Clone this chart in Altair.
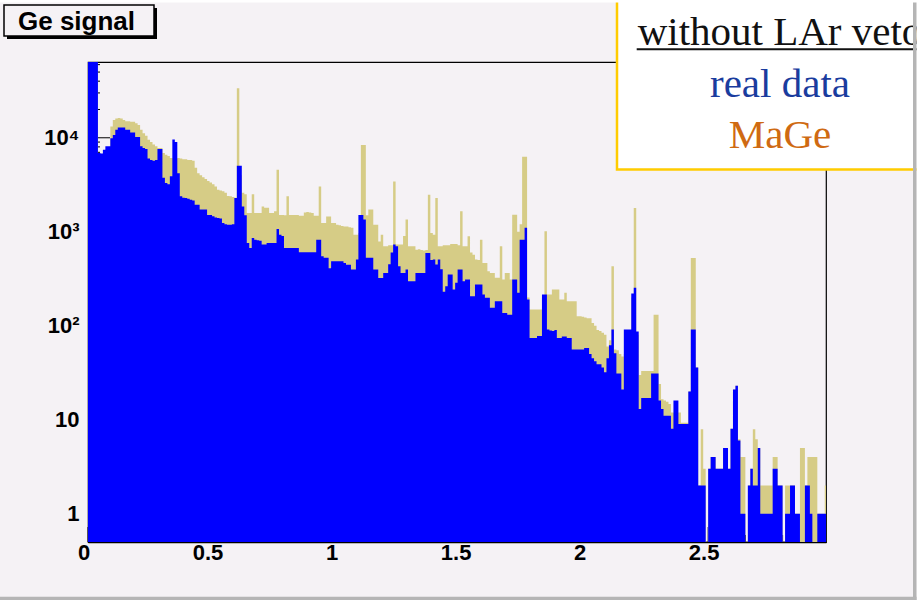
import altair as alt
import pandas as pd

# ---------------- data ----------------
BIN_WIDTH = 0.01          # MeV per histogram bin
X_MAX = 2.975             # right edge of the frame (MeV)
Y_MIN, Y_MAX = 0.5, 64000 # log-axis range

# real data (blue), counts per 10 keV bin, bins 0 .. 297
real_data = [
    90000, 90000, 80000, 70000, 6900, 6800, 7450, 8100, 8100, 9900,
    10700, 12200, 12900, 12900, 12900, 12200, 12200, 11400, 11400, 10200,
    10200, 8100, 7800, 7600, 6000, 5800, 5700, 5800, 7600, 7600,
    3750, 3300, 3200, 3900, 9600, 9000, 4200, 2380, 2300, 2280,
    2250, 2190, 2150, 1940, 1940, 1720, 1720, 1720, 1510, 1510,
    1460, 1420, 1400, 1380, 1240, 1200, 1190, 1190, 1200, 2280,
    5050, 5050, 1860, 1500, 760, 672, 858, 820, 810, 800,
    730, 730, 760, 760, 760, 760, 1070, 930, 900, 672,
    672, 672, 672, 672, 672, 605, 605, 605, 605, 605,
    605, 605, 824, 824, 548, 530, 530, 410, 486, 486,
    486, 486, 486, 466, 445, 445, 396, 396, 506, 1510,
    1510, 1350, 530, 530, 530, 396, 396, 323, 323, 365,
    365, 450, 600, 730, 700, 430, 365, 365, 396, 298,
    298, 298, 365, 365, 365, 365, 595, 595, 500, 506,
    447, 506, 400, 230, 263, 350, 350, 243, 286, 396,
    396, 298, 310, 310, 206, 206, 274, 274, 274, 215,
    198, 198, 155, 155, 182, 182, 182, 137, 137, 131,
    131, 310, 310, 224, 824, 824, 1100, 190, 74, 74,
    74, 78, 78, 215, 215, 91, 89, 88, 90, 74,
    74, 77, 77, 74, 74, 56, 56, 56, 56, 56,
    58, 58, 50, 45, 42, 39, 39, 36, 32, 45,
    62, 91, 51, 31, 31, 21, 91, 91, 91, 220,
    253, 87, 13, 17, 17, 17, 17, 31, 31, 31,
    16, 13, 11, 11, 11, 8, 16, 16, 9, 9,
    9, 9, 20, 91, 91, 36, 2, 2, 2, 0,
    3, 4, 4, 3, 3, 3, 5, 5, 3, 8,
    21, 23, 6, 1, 1, 0, 2, 3, 2, 2,
    5, 1, 1, 1, 1, 1, 3, 3, 2, 2,
    0, 1, 1, 2, 2, 1, 1, 0, 0, 2,
    2, 1, 0, 0, 1, 1, 1, 1,
]

# MaGe simulation (khaki), same binning
mage = [
    50000, 50000, 50000, 50000, 6000, 6200, 6800, 7500, 8000, 13200,
    15500, 16000, 16200, 16000, 15500, 15000, 15000, 14800, 14800, 14300,
    13700, 12200, 11200, 10500, 9500, 9000, 8500, 8100, 7800, 7800,
    6900, 6600, 6400, 6100, 6100, 6000, 6100, 6000, 5900, 5900,
    5800, 5800, 5700, 4800, 4200, 4000, 3800, 3650, 3460, 3350,
    3200, 3030, 2800, 2750, 2700, 2600, 2400, 2380, 2350, 2300,
    33700, 4000, 2600, 2500, 1580, 1580, 2500, 1580, 1580, 1580,
    1860, 1800, 1800, 1580, 1580, 1650, 4570, 1510, 1510, 1500,
    2380, 1510, 1510, 1510, 1510, 1480, 1480, 1600, 1620, 1600,
    1580, 1480, 1480, 3030, 1240, 1240, 1450, 1450, 1240, 1240,
    1190, 1170, 1150, 1140, 1140, 1120, 1100, 930, 930, 970,
    8400, 8400, 1500, 1720, 1720, 1190, 1190, 790, 930, 700,
    700, 720, 720, 3430, 730, 730, 730, 900, 1350, 700,
    700, 700, 645, 650, 640, 630, 640, 2480, 970, 930,
    2290, 700, 700, 720, 720, 720, 740, 740, 740, 720,
    1650, 700, 700, 893, 600, 570, 506, 500, 824, 466,
    466, 380, 365, 365, 325, 325, 700, 310, 365, 365,
    310, 1520, 1520, 1000, 1200, 6300, 6300, 200, 149, 149,
    149, 149, 149, 200, 1010, 215, 215, 243, 243, 243,
    190, 190, 224, 182, 182, 182, 182, 126, 126, 125,
    122, 120, 120, 107, 100, 90, 88, 84, 80, 60,
    70, 429, 56, 55, 50, 47, 50, 50, 50, 200,
    1790, 80, 30, 33, 33, 33, 33, 33, 131, 131,
    24, 16.5, 16, 15.5, 14.7, 11.9, 11.9, 11.9, 11.9, 9.3,
    9.3, 9.3, 20, 525, 525, 36, 2, 7.9, 3, 0,
    3, 4, 4, 3, 3, 3, 5, 5, 3, 8,
    21, 23, 6.2, 4, 4, 0, 2, 3, 7.9, 6.2,
    5, 2, 2, 2, 2, 2, 4, 4, 2, 2,
    0, 2, 2, 2, 2, 1, 1, 5, 5, 2,
    4, 4, 4, 4, 1, 1, 1, 2,
]

x_major = [0, 0.5, 1.0, 1.5, 2.0, 2.5]
x_labels = ["0", "0.5", "1", "1.5", "2", "2.5"]
y_major = [1, 10, 100, 1000, 10000]
y_label_text = ["1", "10", "10²", "10³", "10⁴"]

legend_lines = ["without LAr veto", "real data", "MaGe"]
title_text = "Ge signal"

# ---------------- styling ----------------
BG = "#f5f2f5"
BLUE = "#0000ff"
KHAKI = "#d6cc86"
W, H = 738, 480
LABEL_SIZE = 22

x_minor = [round(0.05 * k, 2) for k in range(60) if k % 10 != 0]
y_minor = [round(m * d, 3) for d in [0.1, 1, 10, 100, 1000, 10000]
           for m in range(2, 10) if Y_MIN <= m * d <= Y_MAX]


def step_frame(counts):
    n = len(counts)
    edges = [round(i * BIN_WIDTH, 4) for i in range(n + 1)]
    vals = list(counts) + [counts[-1]]
    vals = [v if v > 0 else 0.01 for v in vals]  # empty bins -> below axis (clamped)
    return pd.DataFrame({"energy": edges, "counts": vals})


xscale = alt.Scale(domain=[0, X_MAX], nice=False, zero=False)
yscale = alt.Scale(type="log", domain=[Y_MIN, Y_MAX], nice=False, clamp=True)

label_expr = " : ".join(
    f"datum.value == {v} ? '{t}'" for v, t in zip(y_major, y_label_text)
) + " : ''"

xaxis = alt.Axis(values=x_major, labels=False, title=None, grid=False, ticks=False,
                 tickSize=0, domainColor="black", domainWidth=1.5)
yaxis = alt.Axis(values=y_major, labelExpr=label_expr, title=None, grid=False,
                 ticks=False, tickSize=0, labelFont="Liberation Sans",
                 labelFontWeight="bold", labelFontSize=LABEL_SIZE, labelColor="black",
                 labelPadding=9, labelFlush=False, labelOverlap=False,
                 domainColor="black", domainWidth=1)

# axis ticks (ROOT style: inside the frame, under the histograms)
ytick_major = alt.Chart(pd.DataFrame({"t": y_major})).mark_rule(color="black", strokeWidth=1).encode(
    y=alt.Y("t:Q", scale=yscale, axis=yaxis), x=alt.value(0), x2=alt.value(22))
ytick_minor = alt.Chart(pd.DataFrame({"t": y_minor})).mark_rule(color="black", strokeWidth=1).encode(
    y=alt.Y("t:Q", scale=yscale, axis=yaxis), x=alt.value(0), x2=alt.value(12))
xtick_major = alt.Chart(pd.DataFrame({"t": x_major})).mark_rule(color="black", strokeWidth=1).encode(
    x=alt.X("t:Q", scale=xscale, axis=xaxis), y=alt.value(H), y2=alt.value(H - 15))
xtick_minor = alt.Chart(pd.DataFrame({"t": x_minor})).mark_rule(color="black", strokeWidth=1).encode(
    x=alt.X("t:Q", scale=xscale, axis=xaxis), y=alt.value(H), y2=alt.value(H - 7))

# x tick labels (ROOT puts them slightly left of the tick)
xlabels = alt.Chart(pd.DataFrame({"t": x_major, "lab": x_labels})).mark_text(
    font="Liberation Sans", fontWeight="bold", fontSize=LABEL_SIZE, color="black",
    baseline="top", align="center", dx=-4).encode(
    x=alt.X("t:Q", scale=xscale, axis=xaxis), y=alt.value(H + 1), text="lab:N")

mage_area = alt.Chart(step_frame(mage)).mark_area(
    interpolate="step-after", color=KHAKI, clip=True).encode(
    x=alt.X("energy:Q", scale=xscale, axis=xaxis),
    y=alt.Y("counts:Q", scale=yscale, axis=yaxis),
    y2=alt.value(H))

data_area = alt.Chart(step_frame(real_data)).mark_area(
    interpolate="step-after", color=BLUE, clip=True).encode(
    x=alt.X("energy:Q", scale=xscale, axis=xaxis),
    y=alt.Y("counts:Q", scale=yscale, axis=yaxis),
    y2=alt.value(H))

one = pd.DataFrame({"a": [0]})

# "Ge signal" title box (ROOT pave with shadow)
title_shadow = alt.Chart(one).mark_rect(color="black").encode(
    x=alt.value(-81), x2=alt.value(69), y=alt.value(-54), y2=alt.value(-23))
title_box = alt.Chart(one).mark_rect(fill=BG, stroke="black", strokeWidth=1.5).encode(
    x=alt.value(-84), x2=alt.value(66), y=alt.value(-57), y2=alt.value(-26))
title_label = alt.Chart(one).mark_text(
    text=title_text, align="left", baseline="alphabetic", font="Liberation Sans",
    fontWeight="bold", fontSize=26, color="black").encode(
    x=alt.value(-70), y=alt.value(-32))

# legend box
legend_box = alt.Chart(one).mark_rect(fill="white", stroke="#ffcc00", strokeWidth=2.5).encode(
    x=alt.value(529), x2=alt.value(860), y=alt.value(-70), y2=alt.value(107.5))
legend_colors = ["#111111", "#1a3c9e", "#cf6a12"]
legend_baselines = [-17, 34.7, 85.7]
legend_texts = [
    alt.Chart(one).mark_text(text=t, align="center", baseline="alphabetic",
                             font="Liberation Serif", fontSize=41, color=c).encode(
        x=alt.value(692), y=alt.value(b))
    for t, c, b in zip(legend_lines, legend_colors, legend_baselines)
]
underline = alt.Chart(one).mark_rule(color="#111111", strokeWidth=2).encode(
    x=alt.value(548.7), x2=alt.value(860), y=alt.value(-12.7))

# canvas bevel
top_white = alt.Chart(one).mark_rect(color="white").encode(
    x=alt.value(-88), x2=alt.value(832), y=alt.value(-62), y2=alt.value(-59.5))
right_white = alt.Chart(one).mark_rect(color="white").encode(
    x=alt.value(828.5), x2=alt.value(832), y=alt.value(-62), y2=alt.value(540))
bottom_white = alt.Chart(one).mark_rect(color="white").encode(
    x=alt.value(-88), x2=alt.value(832), y=alt.value(538), y2=alt.value(540))
right_gray = alt.Chart(one).mark_rect(color="#b5b5b5").encode(
    x=alt.value(825), x2=alt.value(828.5), y=alt.value(-59.5), y2=alt.value(538))
bottom_gray = alt.Chart(one).mark_rect(color="#b5b5b5").encode(
    x=alt.value(-88), x2=alt.value(828.5), y=alt.value(534.7), y2=alt.value(538))

chart = alt.layer(
    ytick_major, ytick_minor, xtick_major, xtick_minor,
    mage_area, data_area, xlabels,
    title_shadow, title_box, title_label,
    legend_box, *legend_texts, underline,
    top_white, right_white, bottom_white, right_gray, bottom_gray,
).properties(
    width=W, height=H,
    padding={"left": 88, "top": 62, "right": 94, "bottom": 60},
    autosize=alt.AutoSizeParams(type="none"),
    background=BG,
).configure_view(stroke="black", strokeWidth=1.2)

chart.save("out.html", embed_options={"renderer": "svg", "actions": False})
